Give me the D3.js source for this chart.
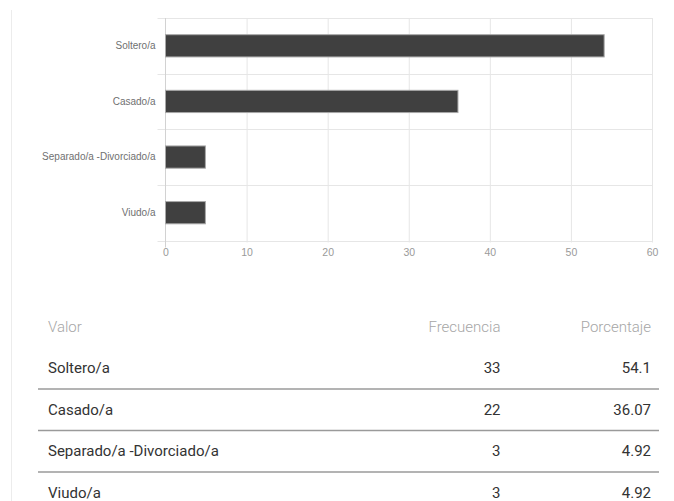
<!DOCTYPE html>
<html>
<head>
<meta charset="utf-8">
<script src="https://cdn.jsdelivr.net/npm/d3@7"></script>
<style>
  html, body { margin: 0; padding: 0; background: #fff; }
  svg { display: block; }
</style>
</head>
<body>
<svg id="chart" width="674" height="501"></svg>
<script>
// ---- data ----
const categories = ["Soltero/a", "Casado/a", "Separado/a -Divorciado/a", "Viudo/a"];
const frecuencia = [33, 22, 3, 3];
const porcentaje = [54.1, 36.07, 4.92, 4.92];
const porcentajeLabels = ["54.1", "36.07", "4.92", "4.92"];
const xTicks = [0, 10, 20, 30, 40, 50, 60];
const tableHeaders = ["Valor", "Frecuencia", "Porcentaje"];

// ---- layout ----
const svg = d3.select("#chart");
const plot = { left: 165.5, right: 652, top: 18, bottom: 240.5 };

// left panel border
svg.append("line")
  .attr("x1", 11.5).attr("x2", 11.5).attr("y1", 10).attr("y2", 501)
  .attr("stroke", "#ececec").attr("stroke-width", 1);

const x = d3.scaleLinear().domain([0, 60]).range([plot.left, plot.right]);
const y = d3.scaleBand().domain(categories)
  .range([plot.top, plot.bottom])
  .paddingInner(0.6).paddingOuter(0.3);
const step = y.step();
const bandEdges = d3.range(categories.length + 1).map(i => plot.top + i * step);

// vertical gridlines
svg.append("g").selectAll("line").data(xTicks.filter(t => t !== 0)).join("line")
  .attr("x1", d => x(d) + 0.5).attr("x2", d => x(d) + 0.5)
  .attr("y1", plot.top).attr("y2", plot.bottom + 2)
  .attr("stroke", "#e6e6e6").attr("stroke-width", 1);

// horizontal band gridlines (with tick marks to the left)
svg.append("g").selectAll("line").data(bandEdges).join("line")
  .attr("x1", plot.left - 8).attr("x2", plot.right)
  .attr("y1", d => Math.round(d) + 0.5).attr("y2", d => Math.round(d) + 0.5)
  .attr("stroke", "#e6e6e6").attr("stroke-width", 1);

// zero axis line
svg.append("line")
  .attr("x1", x(0)).attr("x2", x(0))
  .attr("y1", plot.top).attr("y2", plot.bottom + 7)
  .attr("stroke", "#d2d2d2").attr("stroke-width", 1);

// bars
const bars = categories.map((c, i) => ({ c, v: porcentaje[i] }));
svg.append("g").selectAll("rect").data(bars).join("rect")
  .attr("x", x(0))
  .attr("y", d => y(d.c))
  .attr("width", d => x(d.v) - x(0))
  .attr("height", y.bandwidth())
  .attr("fill", "#404040")
  .attr("stroke", "#a8a8a8").attr("stroke-width", 1);

// x axis labels
const xAxis = d3.axisBottom(x).tickValues(xTicks).tickSize(0).tickPadding(0);
const gx = svg.append("g").attr("transform", `translate(0,${plot.bottom + 8})`).call(xAxis);
gx.select(".domain").remove();
gx.selectAll("text")
  .attr("font-family", "'Liberation Sans', Arial, sans-serif")
  .attr("font-size", "10.5px").attr("fill", "#9a9a9a")
  .attr("dy", "0.71em");

// y axis labels
const yAxis = d3.axisLeft(y).tickSize(0).tickPadding(0);
const gy = svg.append("g").attr("transform", `translate(${plot.left - 10},0)`).call(yAxis);
gy.select(".domain").remove();
gy.selectAll("text")
  .attr("font-family", "'Liberation Sans', Arial, sans-serif")
  .attr("font-size", "10px").attr("fill", "#707070");

// ---- table ----
const tbl = { left: 38, right: 659, textLeft: 48, col2: 500.5, col3: 651, headerY: 332, rowY0: 373, rowH: 41.5 };
const tableFont = "Roboto, 'Liberation Sans', Arial, sans-serif";
const colX = [tbl.textLeft, tbl.col2, tbl.col3];
const colAnchor = ["start", "end", "end"];

svg.append("g").selectAll("text").data(tableHeaders).join("text")
  .attr("x", (d, i) => colX[i]).attr("y", tbl.headerY)
  .attr("text-anchor", (d, i) => colAnchor[i])
  .attr("font-family", tableFont).attr("font-weight", 300)
  .attr("font-size", "15px").attr("fill", "#a6a6a6")
  .text(d => d);

const rows = categories.map((c, i) => [c, String(frecuencia[i]), porcentajeLabels[i]]);
const rowG = svg.append("g").selectAll("g").data(rows).join("g")
  .attr("transform", (d, i) => `translate(0,${tbl.rowY0 + i * tbl.rowH})`);
rowG.selectAll("text").data(d => d).join("text")
  .attr("x", (d, i) => colX[i]).attr("y", 0)
  .attr("text-anchor", (d, i) => colAnchor[i])
  .attr("font-family", tableFont)
  .attr("font-size", "15px").attr("fill", "#333")
  .text(d => d);

// row separators
svg.append("g").selectAll("line").data(rows.slice(0, rows.length - 1)).join("line")
  .attr("x1", tbl.left).attr("x2", tbl.right)
  .attr("y1", (d, i) => tbl.rowY0 + 16 + i * tbl.rowH)
  .attr("y2", (d, i) => tbl.rowY0 + 16 + i * tbl.rowH)
  .attr("stroke", "#9a9a9a").attr("stroke-width", 1.5);
</script>
</body>
</html>
